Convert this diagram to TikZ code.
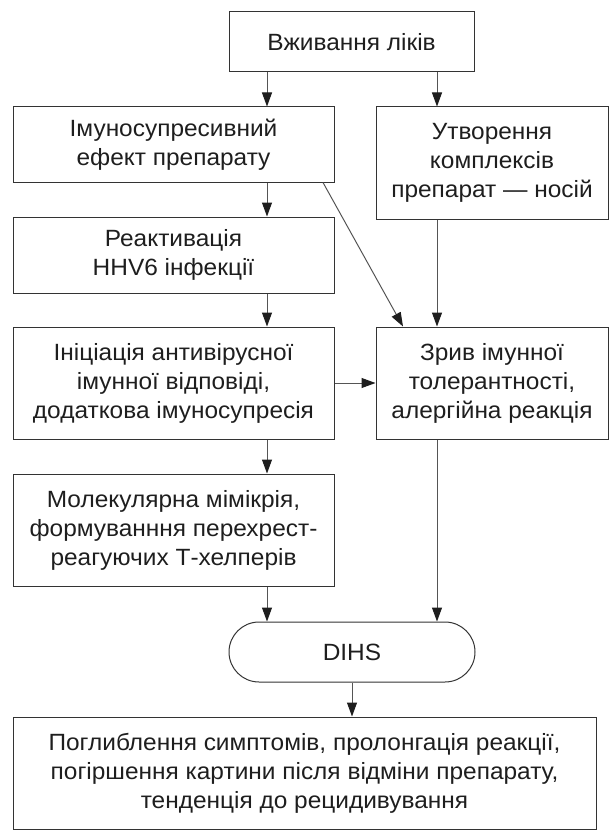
\documentclass[tikz,border=0pt]{standalone}
\usepackage{fontspec}
\setmainfont{Liberation Sans}[FakeStretch=1.04]
\usetikzlibrary{arrows.meta}
\definecolor{boxline}{HTML}{333333}
\definecolor{conline}{HTML}{555555}
\definecolor{txt}{HTML}{1E1E1E}
\tikzset{
  box/.style={draw=boxline, line width=1pt, rectangle, align=center, inner sep=0pt,
    text=txt, font=\fontsize{23.5}{29}\selectfont},
  termbox/.style={box, rounded corners=30pt},
  arr/.style={draw=conline, line width=1pt, -{Triangle[length=14pt,width=10pt,color=txt]}}
}
\begin{document}
\begin{tikzpicture}[x=1pt,y=1pt]
\useasboundingbox (0,0) rectangle (611,-832);
\node[box, minimum width=245pt, minimum height=60pt] (top) at (351.5,-42) {Вживання ліків};
\node[box, minimum width=321pt, minimum height=75pt] (L1) at (173.5,-144.5) {Імуносупресивний\\ефект препарату};
\node[box, minimum width=232pt, minimum height=112pt] (R1) at (492,-163) {Утворення\\комплексів\\препарат — носій};
\node[box, minimum width=321pt, minimum height=76pt] (L2) at (173.5,-255) {Реактивація\\HHV6 інфекції};
\node[box, minimum width=321pt, minimum height=112pt] (L3) at (173.5,-383) {Ініціація антивірусної\\імунної відповіді,\\додаткова імуносупресія};
\node[box, minimum width=232pt, minimum height=112pt] (R2) at (492,-383) {Зрив імунної\\толерантності,\\алергійна реакція};
\node[box, minimum width=321pt, minimum height=112pt] (L4) at (173.5,-530) {Молекулярна мімікрія,\\формуванння перехрест-\\реагуючих Т-хелперів};
\node[termbox, minimum width=246pt, minimum height=60pt] (dihs) at (352,-652) {DIHS};
\node[box, minimum width=583pt, minimum height=112pt] (res) at (304.5,-773) {Поглиблення симптомів, пролонгація реакції,\\погіршення картини після відміни препарату,\\тенденція до рецидивування};
\coordinate (cl) at (267,0);
\coordinate (cr) at (437,0);
\coordinate (cm) at (352,0);
\coordinate (d1) at (323,0);
\coordinate (d2) at (403,0);
\draw[arr] (top.south -| cl) -- (L1.north -| cl);
\draw[arr] (top.south -| cr) -- (R1.north -| cr);
\draw[arr] (L1.south -| cl) -- (L2.north -| cl);
\draw[arr] (L2.south -| cl) -- (L3.north -| cl);
\draw[arr] (L3.south -| cl) -- (L4.north -| cl);
\draw[arr] (L4.south -| cl) -- (dihs.north -| cl);
\draw[arr] (R1.south -| cr) -- (R2.north -| cr);
\draw[arr] (R2.south -| cr) -- (dihs.north -| cr);
\draw[arr] (L3.east) -- (R2.west);
\draw[arr] (L1.south -| d1) -- (R2.north -| d2);
\draw[arr] (dihs.south -| cm) -- (res.north -| cm);
\end{tikzpicture}
\end{document}
